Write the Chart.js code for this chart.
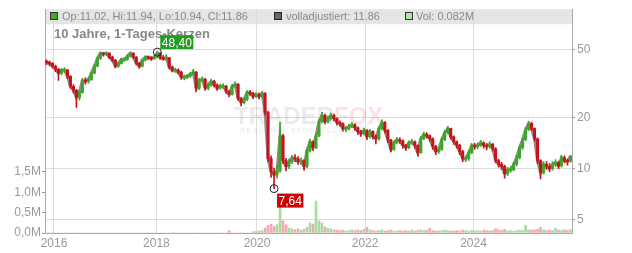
<!DOCTYPE html>
<html>
<head>
<meta charset="utf-8">
<script src="https://cdn.jsdelivr.net/npm/chart.js@4.4.0/dist/chart.umd.min.js"></script>
<style>
  html, body { margin: 0; padding: 0; background: #fff; }
</style>
</head>
<body>
<canvas id="myChart" width="632" height="253"></canvas>
<script>
// one candle per ~2.5 weeks, oldest first (Oct 2015 .. Oct 2025)
const closes = [
  42.0, 41.6, 40.0, 38.4, 36.4, 37.9, 37.9, 34.9, 30.5, 28.9,
  26.2, 28.1, 33.1, 32.6, 33.5, 36.4, 40.0, 44.4, 47.8, 47.2,
  47.8, 45.2, 43.4, 40.0, 41.6, 43.8, 43.8, 45.8, 47.8, 45.2,
  41.6, 40.0, 43.4, 45.2, 44.8, 44.4, 45.2, 47.8, 44.8, 44.4,
  44.8, 39.5, 37.9, 37.9, 36.9, 34.5, 34.5, 34.9, 35.9, 36.9,
  29.7, 33.1, 33.5, 29.7, 31.0, 32.6, 31.0, 29.7, 30.5, 30.5,
  28.5, 27.3, 30.5, 31.3, 25.9, 24.5, 25.5, 28.1, 27.7, 26.6,
  27.3, 26.6, 27.7, 21.4, 11.45, 9.6, 9.2, 9.73, 15.6, 11.15,
  10.3, 11.0, 11.6, 11.45, 11.0, 11.15, 10.3, 12.8, 14.4, 13.3,
  15.6, 18.9, 20.6, 18.9, 19.7, 20.6, 19.7, 18.7, 18.4, 17.2,
  17.2, 17.7, 18.1, 17.4, 16.5, 16.1, 16.8, 15.4, 16.5, 15.4,
  15.0, 17.2, 18.7, 16.8, 14.8, 13.0, 14.2, 14.8, 14.6, 13.7,
  13.3, 14.2, 14.4, 13.7, 12.4, 15.0, 15.9, 15.6, 15.0, 13.5,
  12.6, 13.0, 14.8, 16.3, 17.2, 15.4, 14.4, 13.7, 12.6, 11.45,
  11.45, 12.4, 13.7, 13.5, 13.7, 14.2, 13.7, 13.5, 13.9, 13.1,
  11.15, 10.6, 10.3, 9.34, 9.86, 9.86, 10.6, 11.6, 13.3, 14.8,
  17.0, 18.4, 17.2, 15.0, 11.15, 9.47, 10.6, 10.3, 10.0, 10.6,
  10.85, 10.4, 11.6, 11.15, 11.02, 11.86
];
const highs = [
  43.6, 42.9, 42.0, 40.6, 38.9, 38.8, 39.3, 38.4, 35.2, 31.2,
  29.3, 28.9, 33.8, 34.2, 34.3, 37.2, 40.9, 45.3, 48.2, 48.1,
  48.0, 47.9, 45.9, 43.8, 42.4, 44.6, 45.0, 46.6, 48.2, 48.0,
  45.6, 42.2, 44.2, 46.0, 46.1, 45.6, 46.2, 48.4, 48.0, 46.4,
  46.8, 45.1, 40.2, 39.0, 38.6, 37.4, 35.6, 35.9, 36.8, 38.3,
  37.2, 33.9, 34.6, 33.9, 31.9, 33.6, 33.1, 31.5, 31.4, 31.6,
  30.9, 28.9, 31.3, 32.4, 31.6, 26.3, 26.2, 28.8, 28.9, 28.1,
  28.0, 27.9, 28.4, 28.0, 21.8, 11.9, 10.1, 10.4, 18.7, 15.9,
  11.5, 11.4, 12.0, 12.1, 11.8, 11.6, 11.3, 13.2, 14.9, 14.6,
  16.1, 19.5, 21.4, 20.9, 20.3, 21.2, 20.9, 19.9, 19.1, 18.6,
  17.8, 18.3, 18.7, 18.4, 17.6, 16.8, 17.3, 17.0, 17.0, 16.7,
  15.8, 17.6, 19.3, 18.9, 17.0, 14.9, 14.6, 15.3, 15.2, 14.8,
  13.9, 14.6, 14.9, 14.6, 13.8, 15.5, 16.4, 16.3, 15.8, 15.2,
  13.7, 13.5, 15.2, 16.8, 17.7, 17.3, 15.6, 14.6, 13.9, 12.8,
  11.9, 12.8, 14.1, 14.1, 14.2, 14.7, 14.4, 14.1, 14.4, 14.1,
  13.3, 11.4, 10.9, 10.5, 10.2, 10.3, 10.9, 12.0, 13.7, 15.3,
  17.5, 19.0, 18.8, 17.4, 15.2, 11.3, 11.0, 11.0, 10.7, 11.0,
  11.3, 11.1, 12.0, 11.9, 11.4, 11.94
];
const lows = [
  40.9, 40.2, 39.0, 37.2, 33.0, 35.6, 36.8, 33.8, 29.6, 27.9,
  22.9, 25.3, 27.8, 31.4, 31.8, 33.0, 36.0, 39.6, 43.8, 45.8,
  46.1, 44.3, 42.5, 39.2, 39.4, 41.1, 42.6, 43.2, 45.2, 44.3,
  40.7, 39.0, 39.6, 42.8, 43.9, 43.2, 43.8, 44.8, 43.9, 43.3,
  43.6, 38.6, 37.0, 36.8, 36.0, 33.5, 33.2, 33.8, 34.4, 35.5,
  28.4, 29.1, 32.4, 28.9, 29.0, 30.5, 30.2, 28.8, 29.3, 29.6,
  27.7, 26.5, 27.0, 30.1, 25.2, 23.4, 24.0, 25.1, 26.9, 25.8,
  26.1, 25.7, 26.2, 20.6, 11.0, 8.9, 7.64, 8.8, 9.5, 10.7,
  9.7, 10.0, 10.7, 11.0, 10.6, 10.6, 9.8, 10.1, 12.5, 12.8,
  13.1, 15.4, 18.6, 18.3, 18.5, 19.3, 19.1, 18.0, 17.8, 16.6,
  16.5, 16.9, 17.4, 16.8, 15.9, 15.5, 15.8, 14.8, 15.1, 14.9,
  14.0, 14.7, 16.9, 16.2, 14.2, 12.6, 12.8, 14.0, 14.1, 13.2,
  12.8, 13.1, 13.9, 13.2, 11.9, 12.3, 14.8, 15.1, 14.5, 13.0,
  12.1, 12.3, 12.8, 14.6, 16.0, 14.9, 13.9, 13.2, 12.1, 11.0,
  11.0, 11.2, 12.2, 13.0, 13.1, 13.5, 13.2, 12.9, 13.2, 12.7,
  10.8, 10.2, 9.9, 8.8, 9.1, 9.5, 9.7, 10.4, 11.4, 13.0,
  14.6, 16.7, 16.7, 14.5, 10.7, 8.7, 9.3, 9.9, 9.6, 9.8,
  10.3, 10.0, 10.2, 10.8, 10.5, 10.94
];
// volume in millions (no volume data before 2019)
const volumes = [
  0, 0, 0, 0, 0, 0, 0, 0, 0, 0,
  0, 0, 0, 0, 0, 0, 0, 0, 0, 0,
  0, 0, 0, 0, 0, 0, 0, 0, 0, 0,
  0, 0, 0, 0, 0, 0, 0, 0, 0, 0,
  0, 0, 0, 0, 0, 0, 0, 0, 0, 0,
  0, 0, 0, 0, 0, 0, 0, 0, 0, 0,
  0, 0.06, 0, 0, 0, 0, 0, 0, 0, 0.03,
  0.04, 0.05, 0.06, 0.12, 0.18, 0.22, 0.16, 0.2, 0.68, 0.3,
  0.2, 0.12, 0.1, 0.08, 0.1, 0.07, 0.09, 0.14, 0.25, 0.22,
  0.78, 0.3, 0.25, 0.15, 0.12, 0.1, 0.08, 0.07, 0.06, 0.07,
  0.05, 0.06, 0.08, 0.06, 0.07, 0.06, 0.09, 0.14, 0.08, 0.06,
  0.05, 0.06, 0.07, 0.05, 0.06, 0.07, 0.05, 0.05, 0.06, 0.05,
  0.06, 0.05, 0.07, 0.05, 0.06, 0.08, 0.06, 0.07, 0.12, 0.06,
  0.05, 0.05, 0.06, 0.07, 0.06, 0.05, 0.05, 0.06, 0.05, 0.07,
  0.06, 0.05, 0.06, 0.05, 0.06, 0.05, 0.07, 0.06, 0.05, 0.06,
  0.1, 0.08, 0.06, 0.09, 0.05, 0.06, 0.05, 0.06, 0.07, 0.06,
  0.19, 0.08, 0.07, 0.08, 0.09, 0.14, 0.08, 0.06, 0.07, 0.06,
  0.12, 0.07, 0.06, 0.08, 0.06, 0.082
];
const firstOpen = 42.8;

// year labels and the candle index where each one sits
const yearLabels = ["2016", "2018", "2020", "2022", "2024"];
const yearPos = [2.5, 36.7, 70.3, 106.4, 142.6];
const priceTicks = [5, 10, 20, 50];
const volTicks = [0, 0.5, 1.0, 1.5];

const titleText = "10 Jahre, 1-Tages-Kerzen";
const ohlcText = "Op:11.02, Hi:11.94, Lo:10.94, Cl:11.86";
const adjText = "volladjustiert: 11.86";
const volText = "Vol: 0.082M";

const fontFam = "'Liberation Sans', Arial, sans-serif";
const green = "#3ea529";
const red = "#c8121c";

const opens = closes.map((c, i) => (i == 0 ? firstOpen : closes[i - 1]));
const isUp = closes.map((c, i) => c >= opens[i]);

const wickData = closes.map((c, i) => ({ x: i, y: [lows[i], highs[i]] }));
const bodyData = closes.map((c, i) => {
  let lo = Math.min(opens[i], c);
  let hi = Math.max(opens[i], c);
  if (hi / lo < 1.01) { hi = hi * 1.006; lo = lo / 1.006; }
  return { x: i, y: [lo, hi] };
});
const adjData = closes.map((c, i) => ({ x: i, y: c }));
const volData = volumes.map((v, i) => ({ x: i, y: v }));

function fmt(v) {
  return v.toFixed(2).replace(".", ",");
}

const decor = {
  id: "decor",
  beforeDraw(chart) {
    const { ctx, chartArea: a } = chart;
    ctx.save();
    ctx.fillStyle = "#e5e5e5";
    ctx.fillRect(a.left, a.top, a.right - a.left, 15);
    ctx.restore();
  },
  beforeDatasetsDraw(chart) {
    // faded watermark
    const ctx = chart.ctx;
    ctx.save();
    ctx.font = "bold 24px " + fontFam;
    ctx.textBaseline = "alphabetic";
    ctx.fillStyle = "rgba(0,0,0,0.08)";
    ctx.fillText("TRADER", 234, 124);
    const w = ctx.measureText("TRADER").width;
    ctx.fillStyle = "rgba(225,40,50,0.13)";
    ctx.fillText("FOX", 234 + w, 124);
    ctx.font = "bold 7px " + fontFam;
    ctx.letterSpacing = "1.5px";
    ctx.fillStyle = "rgba(0,0,0,0.07)";
    ctx.fillText("REALTIME STOCK SCREENER", 240, 133);
    ctx.restore();
  },
  afterDatasetsDraw(chart) {
    const { ctx, chartArea: a } = chart;
    const xS = chart.scales.x;
    const yS = chart.scales.y;
    ctx.save();

    // header legend
    ctx.font = "11px " + fontFam;
    ctx.textBaseline = "alphabetic";
    ctx.lineWidth = 1;
    ctx.fillStyle = "#44aa22"; ctx.fillRect(50.5, 12.5, 7, 7);
    ctx.strokeStyle = "#333"; ctx.strokeRect(50.5, 12.5, 7, 7);
    ctx.fillStyle = "#888";
    ctx.fillText(ohlcText, 62, 20);
    ctx.fillStyle = "#666"; ctx.fillRect(274.5, 12.5, 7, 7);
    ctx.strokeStyle = "#222"; ctx.strokeRect(274.5, 12.5, 7, 7);
    ctx.fillStyle = "#888";
    ctx.fillText(adjText, 286, 20);
    ctx.fillStyle = "#b4e2ac"; ctx.fillRect(405.5, 12.5, 7, 7);
    ctx.strokeStyle = "#333"; ctx.strokeRect(405.5, 12.5, 7, 7);
    ctx.fillStyle = "#888";
    ctx.fillText(volText, 416, 20);

    // title
    ctx.font = "bold 13px " + fontFam;
    ctx.fillStyle = "#888";
    ctx.fillText(titleText, 54, 38);

    // max / min markers
    const hiVal = Math.max(...highs);
    const hiIdx = highs.indexOf(hiVal);
    const loVal = Math.min(...lows);
    const loIdx = lows.indexOf(loVal);

    ctx.font = "12px " + fontFam;
    const marks = [
      { idx: hiIdx, val: hiVal, color: "#1f9e1f", up: true },
      { idx: loIdx, val: loVal, color: "#cc0000", up: false }
    ];
    marks.forEach((m) => {
      const px = xS.getPixelForValue(m.idx);
      const py = yS.getPixelForValue(m.val);
      ctx.beginPath();
      ctx.arc(px, py, 4, 0, Math.PI * 2);
      ctx.strokeStyle = "#222";
      ctx.lineWidth = 1;
      ctx.stroke();
      const txt = fmt(m.val);
      const tw = ctx.measureText(txt).width + 3;
      const bx = px + 3;
      const by = m.up ? py - 17 : py + 5;
      ctx.fillStyle = m.color;
      ctx.fillRect(bx, by, tw, 14);
      ctx.fillStyle = "#fff";
      ctx.fillText(txt, bx + 1.5, by + 11.5);
    });
    ctx.restore();
  }
};

const ctx = document.getElementById("myChart").getContext("2d");
const myChart = new Chart(ctx, {
  type: "bar",
  data: {
    datasets: [
      {
        label: "Kerzen",
        data: bodyData,
        backgroundColor: isUp.map((u) => (u ? green : red)),
        barThickness: 2.4,
        grouped: false,
        yAxisID: "y",
        order: 1
      },
      {
        label: "Docht",
        data: wickData,
        backgroundColor: isUp.map((u) => (u ? green : red)),
        barThickness: 1,
        grouped: false,
        yAxisID: "y",
        order: 2
      },
      {
        type: "line",
        label: "volladjustiert",
        data: adjData,
        borderColor: "#8d8d8d",
        borderWidth: 3,
        pointRadius: 0,
        tension: 0,
        yAxisID: "y",
        order: 3
      },
      {
        label: "Vol",
        data: volData,
        backgroundColor: isUp.map((u) => (u ? "#a9dca1" : "#f3a9b1")),
        barThickness: 2,
        grouped: false,
        yAxisID: "v",
        order: 4
      }
    ]
  },
  options: {
    responsive: false,
    animation: false,
    events: [],
    layout: { padding: { top: 8, left: 0, right: 0, bottom: 0 } },
    plugins: {
      legend: { display: false },
      tooltip: { enabled: false }
    },
    scales: {
      x: {
        type: "linear",
        min: -0.5,
        max: 175.5,
        offset: false,
        afterBuildTicks: (s) => { s.ticks = yearPos.map((v) => ({ value: v })); },
        afterFit: (s) => { s.height = 20; },
        ticks: {
          callback: (v, i) => yearLabels[i],
          autoSkip: false,
          maxRotation: 0,
          color: "#999",
          padding: 3,
          font: { size: 12, family: fontFam }
        },
        grid: { color: "#dcdcdc", tickLength: 0, offset: false },
        border: { color: "#aaa" }
      },
      y: {
        type: "logarithmic",
        position: "right",
        min: 4.19,
        max: 86.5,
        afterBuildTicks: (s) => { s.ticks = priceTicks.map((v) => ({ value: v })); },
        afterFit: (s) => { s.width = 60; },
        ticks: {
          callback: (v) => String(v),
          color: "#999",
          padding: 2,
          font: { size: 12, family: fontFam }
        },
        grid: { color: "#dcdcdc", tickLength: 3, tickColor: "#999" },
        border: { color: "#aaa" }
      },
      v: {
        type: "linear",
        position: "left",
        min: 0,
        max: 5.49,
        afterBuildTicks: (s) => { s.ticks = volTicks.map((v) => ({ value: v })); },
        afterFit: (s) => { s.width = 45; },
        ticks: {
          callback: (v) => v.toFixed(1).replace(".", ",") + "M",
          color: "#999",
          padding: 1,
          font: { size: 12, family: fontFam }
        },
        grid: { drawOnChartArea: false, tickLength: 3, color: "#999" },
        border: { color: "#aaa" }
      }
    }
  },
  plugins: [decor]
});
</script>
</body>
</html>
